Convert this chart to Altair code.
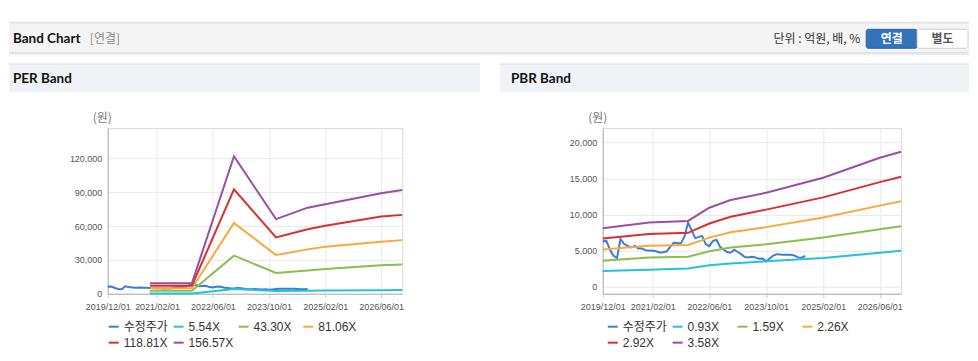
import altair as alt
import pandas as pd

# ---------------- data ----------------
PRICE_DATES = pd.date_range("2019-12-01", "2024-09-01", freq="MS").strftime("%Y-%m-%d").tolist()
PRICE = [6300, 6340, 5100, 4300, 3950, 6600, 5900, 5650, 5420, 5650, 5300, 5300,
         5050, 5000, 4960, 4900, 4720, 4750, 4900, 5500, 6100, 6000, 6000, 7000,
         8880, 7800, 6700, 6900, 7000, 5900, 5600, 6300, 6500, 5500, 5150, 4800,
         4700, 5100, 4800, 4500, 4100, 4050, 4150, 4050, 3850, 3900, 3500, 3900,
         4300, 4500, 4450, 4400, 4400, 4400, 4300, 4050, 4000, 4250]

PER_SERIES = ["수정주가", "5.54X", "43.30X", "81.06X", "118.81X", "156.57X"]
PER_BAND_DATES = ["2020-12-01", "2021-12-01", "2022-12-01", "2023-12-01",
                  "2024-09-01", "2025-02-01", "2026-06-01", "2026-12-01"]
PER_5_54 = [330, 330, 4300, 2350, 2700, 2820, 3150, 3300]
PER_43_30 = [2600, 2600, 33800, 18500, 20600, 22000, 25250, 25900]
PER_81_06 = [4900, 4900, 62900, 34400, 39400, 41700, 46150, 47600]
PER_118_81 = [7200, 7200, 92600, 50000, 57300, 60300, 68500, 70000]
PER_156_57 = [9400, 9400, 122000, 66200, 76400, 79400, 89100, 92000]

PBR_SERIES = ["수정주가", "0.93X", "1.59X", "2.26X", "2.92X", "3.58X"]
PBR_BAND_DATES = ["2019-12-01", "2021-01-01", "2021-12-01", "2022-06-01", "2022-12-01",
                  "2023-10-01", "2025-02-01", "2026-06-01", "2026-12-01"]
PBR_0_93 = [2150, 2350, 2500, 2950, 3200, 3500, 3980, 4680, 4980]
PBR_1_59 = [3580, 4050, 4150, 4900, 5420, 5880, 6800, 7950, 8370]
PBR_2_26 = [5150, 5680, 5770, 6800, 7540, 8250, 9600, 11240, 11850]
PBR_2_92 = [6660, 7300, 7460, 8750, 9690, 10680, 12380, 14500, 15240]
PBR_3_58 = [8100, 8880, 9110, 10950, 12020, 13030, 15110, 17880, 18710]

COLORS = ["#3a7dd6", "#22c3d8", "#8dbd4f", "#f9a93a", "#d9302e", "#9a4ea6"]

X_TICKS = [(2019, 12), (2021, 2), (2022, 6), (2023, 10), (2025, 2), (2026, 6)]
X_DOMAIN = [(2019, 12), (2026, 12)]
PER_Y_TICKS = [0, 30000, 60000, 90000, 120000]
PER_Y_DOMAIN = [0, 147000]
PBR_Y_TICKS = [0, 5000, 10000, 15000, 20000]
PBR_Y_DOMAIN = [-1000, 22000]

LATIN = "Liberation Sans, Noto Sans CJK KR"
HEAD = "Lato, Noto Sans CJK KR"
KR = "Noto Sans CJK KR"


def long_frame(series, band_dates, bands):
    rows = [{"date": d, "value": v, "series": series[0], "z": 0} for d, v in zip(PRICE_DATES, PRICE)]
    for i, (name, vals) in enumerate(zip(series[1:], bands)):
        rows += [{"date": d, "value": v, "series": name, "z": i + 1} for d, v in zip(band_dates, vals)]
    return pd.DataFrame(rows)


per_df = long_frame(PER_SERIES, PER_BAND_DATES, [PER_5_54, PER_43_30, PER_81_06, PER_118_81, PER_156_57])
pbr_df = long_frame(PBR_SERIES, PBR_BAND_DATES, [PBR_0_93, PBR_1_59, PBR_2_26, PBR_2_92, PBR_3_58])

ONE = pd.DataFrame({"k": [0]})


def dt(ym):
    return alt.DateTime(year=ym[0], month=ym[1], date=1, utc=True)


def rect(ox, oy, x1, y1, x2, y2, fill, stroke=None, cr=0):
    kw = dict(fill=fill, cornerRadius=cr)
    if stroke:
        kw.update(stroke=stroke, strokeWidth=1)
    else:
        kw.update(strokeWidth=0)
    return alt.Chart(ONE).mark_rect(**kw).encode(
        x=alt.value(x1 - ox), x2=alt.value(x2 - ox),
        y=alt.value(y1 - oy), y2=alt.value(y2 - oy))


def text(ox, oy, s, x, y, size=12, weight="normal", color="#333", align="left", font=KR):
    return alt.Chart(ONE).mark_text(
        text=s, align=align, baseline="middle", fontSize=size, fontWeight=weight,
        color=color, font=font).encode(x=alt.value(x - ox), y=alt.value(y - oy))


def panel(df, series, ydom, yticks, width, legend_x, decor):
    color = alt.Color(
        "series:N",
        scale=alt.Scale(domain=series, range=COLORS),
        legend=alt.Legend(
            orient="none", legendX=legend_x, legendY=193, direction="horizontal",
            columns=4, title=None, symbolType="stroke", symbolSize=100,
            symbolStrokeWidth=2, labelFontSize=12, labelFont=LATIN, labelColor="#333",
            columnPadding=1, rowPadding=4, gridAlign="all", padding=0, labelOffset=4,
        ),
    )
    x = alt.X(
        "date:T",
        scale=alt.Scale(type="utc", domain=[dt(d) for d in X_DOMAIN]),
        axis=alt.Axis(values=[dt(d) for d in X_TICKS],
                      labelExpr="utcFormat(datum.value, '%Y/%m/%d')",
                      title=None, tickSize=4, labelPadding=5, labelOverlap=False,
                      labelFlush=False),
    )
    y = alt.Y(
        "value:Q",
        scale=alt.Scale(domain=ydom, nice=False, zero=False),
        axis=alt.Axis(values=yticks, labelExpr="format(datum.value, ',')",
                      title=None, ticks=False, labelPadding=6, labelFlush=False),
    )
    lines = alt.Chart(df).mark_line(strokeWidth=2).encode(
        x=x, y=y, color=color, detail="z:O")
    return alt.layer(*decor, lines).properties(width=width, height=166)


# ---- PER panel (plot origin at 107,127 in page-reference coords) ----
ox, oy = 107, 127
per_decor = [
    rect(ox, oy, 8, 8, 970, 20, "white"),
    rect(ox, oy, 8, 20.5, 970, 22.5, "#e3e3e3"),
    rect(ox, oy, 8, 22.5, 970, 51, "#f4f4f4"),
    rect(ox, oy, 8, 51, 970, 52.5, "#dadada"),
    rect(ox, oy, 8, 52.5, 970, 54, "#ededed"),
    text(ox, oy, "Band Chart", 12, 38, 13.5, "bold", "#111", font=HEAD),
    text(ox, oy, "[연결]", 89, 38, 12, "normal", "#8a8a8a"),
    text(ox, oy, "단위 : 억원, 배, %", 861, 38, 12, "normal", "#333", align="right"),
    rect(ox, oy, 867, 28, 918, 47, "#3273b9", stroke="#2a63a3", cr=2),
    text(ox, oy, "연결", 892.5, 37.5, 12, "bold", "white", align="center"),
    rect(ox, oy, 918, 28, 969, 47, "white", stroke="#cfcfcf", cr=2),
    text(ox, oy, "별도", 943.5, 37.5, 12, "bold", "#555", align="center"),
    rect(ox, oy, 8, 62, 480, 64, "#e3e7ec"),
    rect(ox, oy, 8, 64, 480, 91, "#eff2f7"),
    text(ox, oy, "PER Band", 12, 78, 13.5, "bold", "#111", font=HEAD),
    rect(ox, oy, 500, 62, 970, 64, "#e3e7ec"),
    rect(ox, oy, 500, 64, 970, 91, "#eff2f7"),
    text(ox, oy, "PBR Band", 511, 78, 13.5, "bold", "#111", font=HEAD),
    text(ox, oy, "(원)", 101.5, 117, 12, "normal", "#777", align="center"),
]
per = panel(per_df, PER_SERIES, PER_Y_DOMAIN, PER_Y_TICKS, 295, 0, per_decor)

# ---- PBR panel (plot origin at 603,127) ----
ox2, oy2 = 603, 127
pbr_decor = [text(ox2, oy2, "(원)", 598, 117, 12, "normal", "#777", align="center")]
pbr = panel(pbr_df, PBR_SERIES, PBR_Y_DOMAIN, PBR_Y_TICKS, 299, 4, pbr_decor)

chart = (
    alt.hconcat(per, pbr, spacing=201, bounds="flush")
    .resolve_scale(color="independent")
    .resolve_legend(color="independent")
    .properties(padding=0, background="white")
    .configure_view(stroke="#d9d9d9")
    .configure_axis(domainColor="#b3b3b3", gridColor="#e9e9e9", labelColor="#555",
                    labelFont=LATIN, labelFontSize=9, tickColor="#cccccc")
)

chart.save("out.html", embed_options={"renderer": "svg", "actions": False})
